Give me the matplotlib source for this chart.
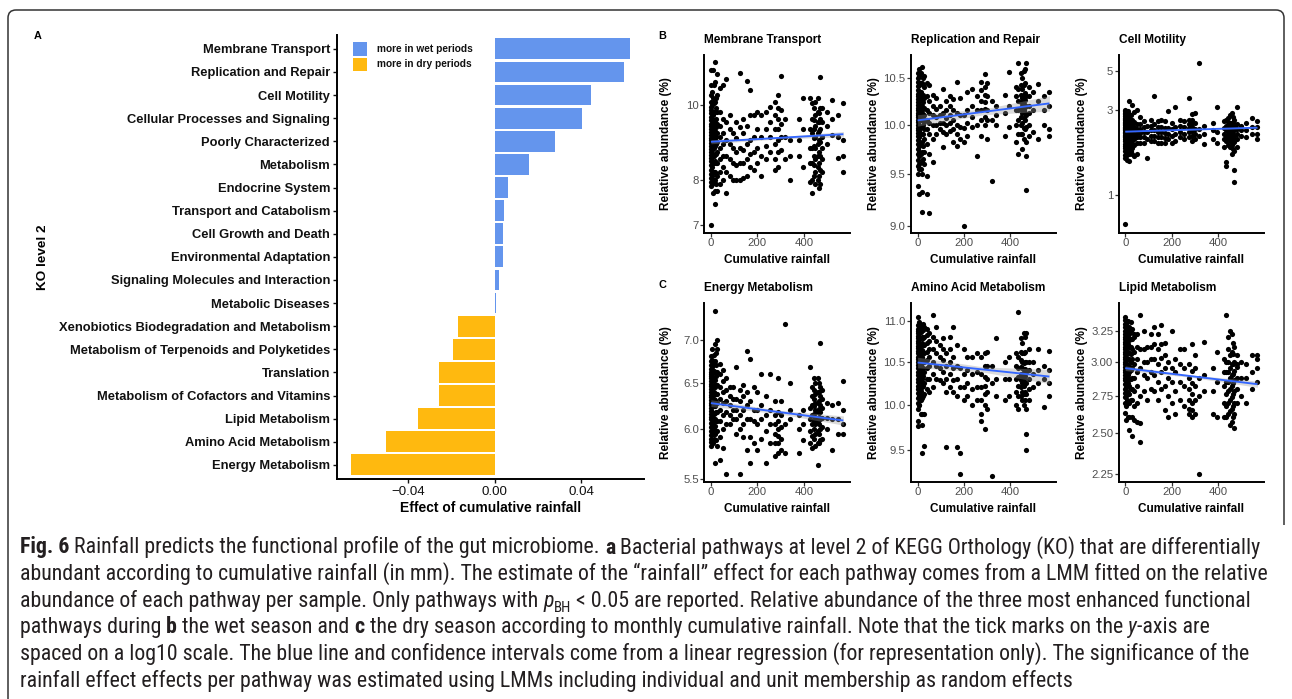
import numpy as np
import matplotlib
matplotlib.use("Agg")
import matplotlib.pyplot as plt
from matplotlib import font_manager
from matplotlib.patches import Rectangle, PathPatch
from matplotlib.path import Path
from matplotlib.transforms import IdentityTransform
from matplotlib.ticker import NullLocator, FixedLocator, FixedFormatter

# ---------------- data ----------------
# Panel A (top to bottom)
pathways = ["Membrane Transport", "Replication and Repair", "Cell Motility",
            "Cellular Processes and Signaling", "Poorly Characterized", "Metabolism",
            "Endocrine System", "Transport and Catabolism", "Cell Growth and Death",
            "Environmental Adaptation", "Signaling Molecules and Interaction",
            "Metabolic Diseases", "Xenobiotics Biodegradation and Metabolism",
            "Metabolism of Terpenoids and Polyketides", "Translation",
            "Metabolism of Cofactors and Vitamins", "Lipid Metabolism",
            "Amino Acid Metabolism", "Energy Metabolism"]
rain_effect = [0.0625, 0.0598, 0.0445, 0.0404, 0.0279, 0.0158, 0.0062, 0.0043, 0.0038,
               0.0038, 0.0019, 0.0005, -0.0170, -0.0194, -0.0257, -0.0257, -0.0358,
               -0.0502, -0.0664]
effect_ticks = [-0.04, 0.0, 0.04]
effect_ticklabels = ["\u22120.04", "0.00", "0.04"]
legend_labels = ["more in wet periods", "more in dry periods"]

# Panels B/C: monthly cumulative rainfall (mm) per sample, grouped in columns
rain_cols = [0, 8, 18, 28, 40, 50, 65, 80, 95, 110, 125, 140, 155, 170, 185, 200, 215, 235,
             255, 275, 290, 300, 320, 340, 380, 395, 425, 435, 450, 460, 470, 480, 500, 520,
             545, 570, 4, 13, 23, 445, 465]
rain_counts = [30, 12, 14, 10, 8, 7, 6, 5, 4, 5, 5, 5, 5, 5, 4, 4, 4, 4, 4, 6, 7, 5, 3, 3, 3,
               3, 5, 7, 8, 8, 8, 6, 3, 3, 3, 4, 14, 12, 10, 8, 8]

membrane_transport = [
    7.0, 7.85, 7.95, 8.05, 8.15, 8.25, 8.35, 8.45, 8.55, 8.62, 8.7, 8.78, 8.85, 8.92, 9.0,
    9.07, 9.15, 9.22, 9.3, 9.38, 9.46, 9.55, 9.65, 9.75, 9.85, 9.95, 10.1, 10.3, 10.6, 11.1,
    7.7, 7.95, 8.2, 8.4, 8.6, 8.8, 9.0, 9.2, 9.45, 9.7, 10.2, 11.1,
    7.45, 7.75, 8.0, 8.2, 8.45, 8.65, 8.85, 9.05, 9.25, 9.5, 9.8, 10.1, 10.7, 11.35,
    7.75, 8.1, 8.4, 8.7, 8.95, 9.2, 9.45, 9.8, 10.3, 10.95,
    7.9, 8.2, 8.5, 8.8, 9.1, 9.4, 9.8, 10.5,
    8.0, 8.3, 8.6, 8.9, 9.2, 9.6, 10.6,
    7.7, 8.2, 8.6, 9.0, 9.5, 10.8,
    8.1, 8.5, 8.9, 9.3, 9.7,
    8.0, 8.4, 8.8, 9.2,
    8.0, 8.35, 8.7, 9.05, 9.5,
    8.0, 8.4, 8.8, 9.35, 11.0,
    8.05, 8.4, 8.75, 9.2, 9.6,
    8.1, 8.5, 8.9, 9.4, 10.75,
    8.3, 8.65, 9.0, 9.7, 10.45,
    8.25, 8.7, 9.1, 9.7,
    8.4, 8.8, 9.3, 9.8,
    8.1, 8.6, 9.1, 9.7,
    8.5, 8.85, 9.3, 9.8,
    8.7, 9.1, 9.5, 9.95,
    8.25, 8.5, 8.9, 9.3, 9.7, 10.1,
    8.3, 8.7, 9.0, 9.3, 9.6, 9.9, 10.3,
    8.75, 9.1, 9.45, 9.85, 10.9,
    8.5, 9.1, 9.6,
    8.0, 8.6, 9.0,
    8.6, 9.0, 9.6,
    8.3, 9.3, 10.2,
    7.95, 8.4, 8.8, 9.3, 10.2,
    7.7, 8.0, 8.4, 8.8, 9.2, 9.6, 10.05,
    7.9, 8.2, 8.5, 8.8, 9.1, 9.4, 9.7, 10.1,
    8.0, 8.3, 8.6, 8.9, 9.2, 9.5, 9.8, 10.2,
    7.9, 8.25, 8.6, 8.95, 9.3, 9.6, 9.9, 10.86,
    8.2, 8.5, 8.8, 9.1, 9.5, 9.9,
    8.9, 9.4, 9.8,
    9.15, 9.6, 10.15,
    8.55, 9.1, 9.7,
    8.2, 8.6, 9.0, 10.05,
    7.9, 8.1, 8.3, 8.45, 8.6, 8.75, 8.9, 9.05, 9.2, 9.35, 9.55, 9.75, 10.0, 10.4,
    8.0, 8.2, 8.4, 8.6, 8.8, 9.0, 9.15, 9.35, 9.55, 9.8, 10.05, 10.6,
    7.9, 8.15, 8.4, 8.65, 8.9, 9.1, 9.35, 9.6, 9.9, 10.2,
    8.1, 8.35, 8.6, 8.85, 9.05, 9.3, 9.55, 9.9,
    7.8, 8.1, 8.4, 8.7, 9.0, 9.25, 9.5, 9.75]

replication_repair = [
    9.38, 9.5, 9.58, 9.64, 9.7, 9.75, 9.8, 9.84, 9.88, 9.91, 9.94, 9.97, 10.0, 10.03, 10.05,
    10.08, 10.1, 10.12, 10.15, 10.18, 10.21, 10.24, 10.27, 10.3, 10.33, 10.37, 10.41, 10.46,
    10.5, 10.55,
    9.3, 9.55, 9.68, 9.78, 9.88, 9.96, 10.04, 10.12, 10.2, 10.3, 10.45, 10.6,
    9.13, 9.32, 9.5, 9.62, 9.72, 9.82, 9.9, 9.98, 10.05, 10.12, 10.2, 10.3, 10.45, 10.62,
    9.6, 9.72, 9.85, 9.95, 10.03, 10.1, 10.18, 10.28, 10.4, 10.52,
    9.3, 9.48, 9.8, 9.95, 10.05, 10.15, 10.3, 10.45,
    9.12, 9.7, 9.9, 10.02, 10.12, 10.25, 10.42,
    9.62, 9.85, 10.0, 10.1, 10.2, 10.32,
    9.9, 10.0, 10.08, 10.17, 10.28,
    9.95, 10.02, 10.1, 10.2,
    9.77, 9.92, 10.02, 10.12, 10.38,
    9.9, 10.0, 10.07, 10.15, 10.25,
    9.93, 10.02, 10.1, 10.2, 10.3,
    9.82, 9.95, 10.05, 10.15, 10.27,
    9.78, 9.9, 10.0, 10.12, 10.46,
    9.85, 9.98, 10.1, 10.28,
    9.0, 9.82, 9.97, 10.1,
    9.88, 10.02, 10.15, 10.35,
    9.98, 10.08, 10.2, 10.38,
    9.68, 10.0, 10.15, 10.3,
    9.88, 10.05, 10.15, 10.25, 10.37, 10.46,
    10.0, 10.08, 10.16, 10.24, 10.32, 10.4, 10.54,
    9.85, 10.05, 10.15, 10.3, 10.45,
    9.43, 10.05, 10.25,
    10.0, 10.1, 10.2,
    9.88, 10.12, 10.32,
    9.98, 10.2, 10.57,
    9.82, 10.0, 10.15, 10.3, 10.4,
    9.7, 9.9, 10.05, 10.15, 10.25, 10.38, 10.66,
    9.75, 9.9, 10.02, 10.12, 10.2, 10.28, 10.38, 10.5,
    9.85, 9.97, 10.07, 10.15, 10.22, 10.3, 10.42, 10.58,
    9.34, 9.68, 9.82, 9.98, 10.1, 10.2, 10.3, 10.66,
    9.88, 10.0, 10.12, 10.2, 10.3, 10.4,
    9.92, 10.15, 10.35,
    9.85, 10.25, 10.43,
    10.0, 10.15, 10.3,
    9.88, 9.95, 10.2, 10.35,
    9.6, 9.72, 9.8, 9.87, 9.93, 9.99, 10.05, 10.1, 10.16, 10.22, 10.28, 10.35, 10.42, 10.52,
    9.55, 9.7, 9.8, 9.9, 9.98, 10.06, 10.13, 10.2, 10.27, 10.35, 10.44, 10.55,
    9.65, 9.78, 9.9, 10.0, 10.08, 10.16, 10.24, 10.32, 10.42, 10.5,
    9.9, 10.0, 10.08, 10.16, 10.24, 10.32, 10.42, 10.55,
    9.95, 10.05, 10.12, 10.19, 10.26, 10.34, 10.45, 10.6]

cell_motility = [
    0.68, 1.6, 1.68, 1.75, 1.82, 1.88, 1.94, 2.0, 2.05, 2.1, 2.14, 2.18, 2.22, 2.26, 2.3,
    2.34, 2.38, 2.42, 2.46, 2.5, 2.54, 2.58, 2.62, 2.67, 2.72, 2.78, 2.84, 2.9, 2.96, 3.0,
    1.56, 1.72, 1.85, 1.96, 2.06, 2.16, 2.26, 2.36, 2.46, 2.58, 2.72, 2.88,
    1.55, 1.7, 1.82, 1.93, 2.03, 2.12, 2.2, 2.28, 2.36, 2.45, 2.55, 2.68, 2.85, 3.37,
    1.7, 1.84, 1.96, 2.06, 2.16, 2.26, 2.37, 2.5, 2.65, 3.2,
    1.66, 1.9, 2.05, 2.18, 2.3, 2.42, 2.58, 2.92,
    1.7, 1.95, 2.1, 2.22, 2.35, 2.5, 3.0,
    1.95, 2.1, 2.22, 2.35, 2.5, 2.75,
    1.95, 2.1, 2.25, 2.4, 2.6,
    1.6, 2.05, 2.25, 2.45,
    2.0, 2.15, 2.3, 2.45, 2.65,
    2.0, 2.15, 2.3, 2.5, 3.6,
    1.95, 2.1, 2.25, 2.4, 2.6,
    1.95, 2.1, 2.25, 2.42, 2.65,
    1.95, 2.08, 2.22, 2.38, 2.6,
    2.05, 2.2, 2.38, 2.95,
    1.95, 2.15, 2.35, 2.55,
    2.0, 2.2, 2.4, 3.1,
    2.1, 2.25, 2.45, 2.65,
    2.05, 2.2, 2.4, 2.6,
    2.1, 2.25, 2.38, 2.5, 2.65, 3.5,
    2.0, 2.15, 2.28, 2.4, 2.52, 2.65, 2.85,
    2.05, 2.2, 2.35, 2.55, 2.9,
    2.15, 2.35, 5.5,
    1.92, 2.2, 2.45,
    2.05, 2.3, 2.55,
    1.95, 2.25, 3.1,
    1.85, 2.05, 2.2, 2.38, 2.6,
    1.45, 1.52, 2.0, 2.15, 2.3, 2.45, 2.65,
    1.85, 2.0, 2.12, 2.22, 2.32, 2.42, 2.55, 2.8,
    1.7, 1.9, 2.05, 2.17, 2.28, 2.4, 2.55, 2.9,
    1.18, 1.38, 1.75, 1.98, 2.15, 2.3, 2.45, 2.65,
    1.85, 2.05, 2.2, 2.35, 2.5, 3.1,
    2.15, 2.3, 2.45,
    2.1, 2.3, 2.55,
    2.2, 2.4, 2.7,
    2.05, 2.2, 2.4, 2.6,
    1.65, 1.78, 1.9, 2.0, 2.08, 2.16, 2.24, 2.32, 2.4, 2.48, 2.56, 2.65, 2.76, 2.9,
    1.7, 1.85, 1.98, 2.08, 2.17, 2.26, 2.35, 2.44, 2.53, 2.63, 2.75, 2.95,
    1.75, 1.9, 2.02, 2.12, 2.22, 2.32, 2.42, 2.52, 2.64, 2.8,
    1.9, 2.05, 2.15, 2.25, 2.35, 2.45, 2.58, 2.72,
    1.8, 1.98, 2.1, 2.2, 2.3, 2.42, 2.55, 2.75]

energy_metabolism = [
    5.82, 5.86, 5.9, 5.94, 5.98, 6.02, 6.06, 6.1, 6.13, 6.16, 6.19, 6.22, 6.25, 6.28, 6.31,
    6.34, 6.37, 6.4, 6.43, 6.46, 6.49, 6.52, 6.55, 6.58, 6.62, 6.66, 6.7, 6.75, 6.81, 6.6,
    5.85, 5.95, 6.03, 6.1, 6.17, 6.24, 6.31, 6.38, 6.45, 6.53, 6.62, 6.72,
    5.65, 5.95, 6.03, 6.1, 6.17, 6.24, 6.31, 6.38, 6.45, 6.53, 6.62, 6.75, 6.95, 7.37,
    5.82, 5.98, 6.08, 6.18, 6.28, 6.38, 6.48, 6.62, 6.9, 7.0,
    5.68, 5.92, 6.08, 6.2, 6.32, 6.45, 6.6, 6.72,
    5.8, 6.0, 6.15, 6.28, 6.4, 6.52, 6.65,
    5.55, 6.05, 6.18, 6.3, 6.42, 6.55,
    6.05, 6.15, 6.25, 6.35, 6.45,
    6.1, 6.2, 6.32, 6.45,
    5.95, 6.1, 6.2, 6.32, 6.68,
    5.55, 6.0, 6.15, 6.3, 6.42,
    5.92, 6.05, 6.2, 6.35, 6.48,
    5.78, 6.1, 6.25, 6.4, 6.87,
    5.65, 5.92, 6.1, 6.3, 6.78,
    5.85, 6.08, 6.2, 6.45,
    5.78, 6.05, 6.2, 6.4,
    5.9, 6.1, 6.25, 6.6,
    5.65, 5.98, 6.15, 6.35,
    5.85, 6.05, 6.2, 6.6,
    5.72, 5.85, 5.95, 6.05, 6.15, 6.3,
    5.75, 5.85, 5.93, 6.0, 6.08, 6.18, 6.56,
    5.78, 5.9, 6.02, 6.15, 6.3,
    5.75, 6.05, 7.2,
    6.1, 6.2, 6.5,
    5.75, 6.0, 6.15,
    5.88, 6.05, 6.2,
    5.85, 5.98, 6.1, 6.22, 6.68,
    5.8, 5.93, 6.05, 6.15, 6.25, 6.35, 6.45,
    5.82, 5.95, 6.05, 6.12, 6.2, 6.28, 6.38, 6.5,
    5.63, 5.85, 5.98, 6.08, 6.18, 6.28, 6.4, 6.55,
    5.88, 6.0, 6.1, 6.18, 6.26, 6.35, 6.45, 6.97,
    5.9, 6.02, 6.12, 6.22, 6.32, 6.42,
    6.0, 6.12, 6.28,
    5.78, 6.1, 6.25,
    5.95, 6.1, 6.28,
    5.95, 6.05, 6.2, 6.52,
    5.88, 5.96, 6.04, 6.11, 6.18, 6.25, 6.32, 6.39, 6.46, 6.53, 6.6, 6.68, 6.77, 6.9,
    5.9, 6.0, 6.08, 6.16, 6.24, 6.32, 6.4, 6.48, 6.56, 6.64, 6.72, 6.82,
    5.88, 5.98, 6.08, 6.18, 6.28, 6.38, 6.48, 6.58, 6.7, 6.85,
    5.9, 6.0, 6.08, 6.16, 6.24, 6.32, 6.42, 6.55,
    5.85, 5.95, 6.05, 6.13, 6.21, 6.3, 6.4, 6.5]

amino_acid_metabolism = [
    9.76, 9.82, 9.95, 10.02, 10.08, 10.13, 10.18, 10.22, 10.26, 10.3, 10.34, 10.38, 10.42,
    10.46, 10.5, 10.53, 10.56, 10.6, 10.63, 10.66, 10.69, 10.72, 10.75, 10.78, 10.81, 10.84,
    10.87, 10.9, 10.94, 11.05,
    10.0, 10.12, 10.22, 10.32, 10.42, 10.5, 10.58, 10.65, 10.72, 10.8, 10.88, 10.95,
    9.47, 9.78, 9.9, 10.08, 10.2, 10.3, 10.4, 10.48, 10.56, 10.64, 10.72, 10.8, 10.88, 10.95,
    9.55, 9.9, 10.12, 10.25, 10.38, 10.5, 10.6, 10.7, 10.8, 10.92,
    10.18, 10.3, 10.42, 10.52, 10.62, 10.72, 10.82, 10.9,
    10.15, 10.3, 10.45, 10.55, 10.65, 10.75, 10.85,
    10.2, 10.35, 10.5, 10.65, 10.8, 11.07,
    10.3, 10.45, 10.6, 10.75, 10.92,
    10.28, 10.42, 10.55, 10.7,
    10.25, 10.38, 10.52, 10.65, 10.78,
    9.53, 10.15, 10.3, 10.45, 10.6,
    10.2, 10.35, 10.5, 10.65, 10.8,
    10.15, 10.28, 10.42, 10.55, 10.92,
    9.53, 10.1, 10.3, 10.45, 10.7,
    9.47, 9.25, 10.2, 10.42,
    10.05, 10.2, 10.35, 10.65,
    10.1, 10.25, 10.4, 10.55,
    10.0, 10.18, 10.35, 10.55,
    10.05, 10.2, 10.38, 10.6,
    9.9, 9.82, 10.05, 10.2, 10.35, 10.55,
    9.73, 10.0, 10.12, 10.22, 10.32, 10.45, 10.6,
    9.95, 10.15, 10.3, 10.45, 10.62,
    9.23, 10.25, 10.45,
    10.1, 10.3, 10.78,
    10.05, 10.3, 10.5,
    10.1, 10.3, 10.55,
    10.0, 10.15, 10.3, 10.45, 10.6,
    9.95, 10.1, 10.22, 10.32, 10.42, 10.55, 11.11,
    10.05, 10.15, 10.25, 10.33, 10.42, 10.5, 10.6, 10.72,
    10.0, 10.12, 10.22, 10.3, 10.38, 10.48, 10.6, 10.85,
    9.5, 9.68, 9.95, 10.12, 10.25, 10.38, 10.5, 10.85,
    10.05, 10.18, 10.3, 10.4, 10.5, 10.65,
    10.2, 10.35, 10.5,
    10.25, 10.4, 10.65,
    9.98, 10.3, 10.45,
    10.1, 10.25, 10.4, 10.63,
    10.1, 10.2, 10.28, 10.36, 10.44, 10.51, 10.58, 10.65, 10.72, 10.79, 10.86, 10.93, 10.98, 10.0,
    10.05, 10.16, 10.26, 10.36, 10.45, 10.54, 10.62, 10.7, 10.78, 10.86, 10.93, 9.9,
    10.1, 10.22, 10.33, 10.43, 10.52, 10.61, 10.7, 10.79, 10.88, 10.96,
    10.1, 10.2, 10.28, 10.36, 10.44, 10.52, 10.62, 10.78,
    10.05, 10.15, 10.25, 10.33, 10.41, 10.5, 10.62, 10.8]

lipid_metabolism = [
    2.63, 2.7, 2.74, 2.77, 2.8, 2.83, 2.86, 2.88, 2.9, 2.92, 2.94, 2.96, 2.98, 3.0, 3.02,
    3.04, 3.06, 3.08, 3.1, 3.12, 3.14, 3.16, 3.18, 3.2, 3.22, 3.25, 3.28, 3.31, 3.34, 3.37,
    2.72, 2.78, 2.83, 2.88, 2.93, 2.98, 3.03, 3.08, 3.13, 3.18, 3.24, 3.32,
    2.52, 2.6, 2.7, 2.76, 2.82, 2.87, 2.92, 2.97, 3.02, 3.07, 3.12, 3.17, 3.22, 3.28,
    2.48, 2.6, 2.72, 2.8, 2.88, 2.95, 3.02, 3.1, 3.18, 3.26,
    2.58, 2.68, 2.78, 2.88, 2.98, 3.08, 3.2, 3.22,
    2.57, 2.7, 2.82, 2.92, 3.02, 3.12, 3.22,
    2.44, 2.56, 2.75, 2.95, 3.1, 3.38,
    2.78, 2.9, 3.0, 3.1, 3.25,
    2.72, 2.88, 3.0, 3.12,
    2.8, 2.92, 3.02, 3.12, 3.22,
    2.78, 2.9, 3.02, 3.14, 3.28,
    2.72, 2.85, 2.98, 3.1, 3.22,
    2.8, 2.92, 3.03, 3.14, 3.3,
    2.65, 2.82, 2.95, 3.05, 3.15,
    2.6, 2.75, 2.88, 3.0,
    2.7, 2.85, 2.95, 3.25,
    2.62, 2.78, 2.92, 3.02,
    2.72, 2.85, 2.98, 3.1,
    2.68, 2.82, 2.95, 3.1,
    2.62, 2.66, 2.72, 2.8, 2.88, 2.98,
    2.6, 2.65, 2.7, 2.76, 2.84, 2.93, 3.14,
    2.62, 2.72, 2.82, 2.95, 3.05,
    2.25, 2.75, 2.88,
    2.78, 2.9, 3.16,
    2.62, 2.78, 2.95,
    2.6, 2.85, 3.08,
    2.6, 2.7, 2.82, 2.92, 3.02,
    2.6, 2.68, 2.76, 2.85, 2.92, 3.0, 3.38,
    2.55, 2.64, 2.72, 2.8, 2.88, 2.95, 3.05, 3.25,
    2.57, 2.66, 2.74, 2.82, 2.9, 2.98, 3.08, 3.22,
    2.53, 2.62, 2.7, 2.78, 2.86, 2.93, 3.0, 3.12,
    2.7, 2.8, 2.88, 2.96, 3.05, 2.98,
    2.75, 2.88, 3.0,
    2.7, 2.88, 2.98,
    2.8, 2.92, 3.05,
    2.85, 2.95, 3.02, 3.05,
    2.68, 2.75, 2.81, 2.86, 2.91, 2.96, 3.01, 3.06, 3.11, 3.16, 3.21, 3.26, 3.31, 2.58,
    2.7, 2.77, 2.84, 2.9, 2.96, 3.02, 3.08, 3.14, 3.2, 3.26, 3.33, 2.6,
    2.72, 2.8, 2.87, 2.94, 3.0, 3.06, 3.12, 3.18, 3.25, 3.32,
    2.62, 2.7, 2.78, 2.85, 2.92, 3.0, 3.1, 3.2,
    2.6, 2.68, 2.76, 2.84, 2.91, 2.98, 3.06, 3.15]

# linear-regression line (log10 scale) read at rainfall 0 and 570 mm
fit_rain = [0, 570]
fit_mt = [8.96, 9.165]
fit_rr = [10.045, 10.225]
fit_cm = [2.265, 2.385]
fit_em = [6.275, 6.088]
fit_aa = [10.49, 10.325]
fit_lm = [2.951, 2.832]

caption_lines = [
    [("Fig. 6", "b"), (" Rainfall predicts the functional profile of the gut microbiome. ", "n"),
     ("a", "b"), (" Bacterial pathways at level 2 of KEGG Orthology (KO) that are differentially", "n")],
    [("abundant according to cumulative rainfall (in mm). The estimate of the \u201crainfall\u201d effect for each pathway comes from a LMM fitted on the relative", "n")],
    [("abundance of each pathway per sample. Only pathways with ", "n"), ("p", "i"), ("BH", "s"),
     (" < 0.05 are reported. Relative abundance of the three most enhanced functional", "n")],
    [("pathways during ", "n"), ("b", "b"), (" the wet season and ", "n"), ("c", "b"),
     (" the dry season according to monthly cumulative rainfall. Note that the tick marks on the ", "n"),
     ("y", "i"), ("-axis are", "n")],
    [("spaced on a log10 scale. The blue line and confidence intervals come from a linear regression (for representation only). The significance of the", "n")],
    [("rainfall effect effects per pathway was estimated using LMMs including individual and unit membership as random effects", "n")],
]

# ---------------- figure ----------------
W, H = 1292, 699
plt.rcParams['font.family'] = ['Liberation Sans', 'DejaVu Sans']
fig = plt.figure(figsize=(W / 100, H / 100), dpi=100)
fig.patch.set_facecolor("white")

def add_axes_px(l, t, r, b):
    return fig.add_axes([l / W, 1 - b / H, (r - l) / W, (b - t) / H])

def ax_x(box, px):
    return (px - box[0]) / (box[2] - box[0])

def ax_y(box, py):
    return (box[3] - py) / (box[3] - box[1])

BLUE = "#6495ED"
GOLD = "#FFB90F"

# ---------- Panel A ----------
boxA = (337, 35, 643.7, 478.7)
axA = add_axes_px(*boxA)
n = len(pathways)
ypos = np.arange(n)[::-1]
bar_colors = [BLUE if v > 0 else GOLD for v in rain_effect]
axA.barh(ypos, rain_effect, height=0.9, color=bar_colors, linewidth=0)
axA.set_ylim(-0.6, n - 0.4)
axA.set_xlim(-0.0731, 0.069)
axA.set_yticks(ypos)
axA.set_yticklabels(pathways, fontsize=9.3, fontweight="bold", color="#111111")
axA.xaxis.set_major_locator(FixedLocator(effect_ticks))
axA.xaxis.set_major_formatter(FixedFormatter(effect_ticklabels))
axA.tick_params(axis="x", labelsize=9.6, length=3, width=1, pad=2.3, colors="#111111")
axA.tick_params(axis="y", length=3, width=1, pad=2.0, color="#111111")
for s in ["top", "right"]:
    axA.spines[s].set_visible(False)
for s in ["left", "bottom"]:
    axA.spines[s].set_linewidth(1.4)
    axA.spines[s].set_color("black")
axA.set_xlabel("Effect of cumulative rainfall", fontsize=10, fontweight="bold")
axA.xaxis.set_label_coords(0.5, ax_y(boxA, 508))
axA.xaxis.label.set_va("center")
axA.set_ylabel("KO level 2", fontsize=9.7, fontweight="bold")
axA.yaxis.set_label_coords(ax_x(boxA, 43.5), 0.5)
axA.yaxis.label.set_va("center")

# legend (panel A)
for i, (lab, col) in enumerate(zip(legend_labels, [BLUE, GOLD])):
    top = 42 + i * 15.5
    fig.patches.append(Rectangle((353 / W, 1 - (top + 13.6) / H), 14 / W, 13.6 / H,
                                 transform=fig.transFigure, facecolor=col, edgecolor="none"))
    fig.text(377 / W, 1 - (top + 6.8) / H, lab, fontsize=7.3, fontweight="bold",
             va="center", ha="left", color="#111111")

fig.text(37.5 / W, 1 - 35.7 / H, "A", fontsize=7.8, fontweight="bold", ha="center", va="center")
fig.text(662 / W, 1 - 35.7 / H, "B", fontsize=7.8, fontweight="bold", ha="center", va="center")
fig.text(662 / W, 1 - 285 / H, "C", fontsize=7.8, fontweight="bold", ha="center", va="center")

# ---------- Panels B and C ----------
rain = np.repeat(rain_cols, rain_counts)
lefts = [704.3, 911, 1118.6]
rights = [850, 1056, 1264]
ylab_x = [665.5, 873.7, 1081.8]
rows = [(55, 233, 40, 242, 260), (303, 482, 288.3, 492, 509)]
panels = [
    (0, 0, "Membrane Transport", membrane_transport, fit_mt, (6.83, 11.6), [7, 8, 10], ["7", "8", "10"]),
    (0, 1, "Replication and Repair", replication_repair, fit_rr, (8.93, 10.755),
     [9.0, 9.5, 10.0, 10.5], ["9.0", "9.5", "10.0", "10.5"]),
    (0, 2, "Cell Motility", cell_motility, fit_cm, (0.607, 6.13), [1, 3, 5], ["1", "3", "5"]),
    (1, 0, "Energy Metabolism", energy_metabolism, fit_em, (5.47, 7.47),
     [5.5, 6.0, 6.5, 7.0], ["5.5", "6.0", "6.5", "7.0"]),
    (1, 1, "Amino Acid Metabolism", amino_acid_metabolism, fit_aa, (9.165, 11.22),
     [9.5, 10.0, 10.5, 11.0], ["9.5", "10.0", "10.5", "11.0"]),
    (1, 2, "Lipid Metabolism", lipid_metabolism, fit_lm, (2.2017, 3.49),
     [2.25, 2.5, 2.75, 3.0, 3.25], ["2.25", "2.50", "2.75", "3.00", "3.25"]),
]
for r, c, title, yvals, fit, ylim, yt, ytl in panels:
    top, bot, ty, _, xly = rows[r]
    box = (lefts[c], top, rights[c], bot)
    ax = add_axes_px(*box)
    assert len(yvals) == len(rain)
    ax.scatter(rain, yvals, s=14, color="black", linewidths=0, zorder=2)
    # narrow confidence ribbon + fitted line
    mid = np.sqrt(fit[0] * fit[1])
    lo = [fit[0] * 0.994, mid * 0.997, fit[1] * 0.992]
    hi = [fit[0] * 1.006, mid * 1.003, fit[1] * 1.008]
    ax.fill_between([fit_rain[0], np.mean(fit_rain), fit_rain[1]], lo, hi,
                    color="#999999", alpha=0.35, linewidth=0, zorder=3)
    ax.plot(fit_rain, fit, color="#3366FF", lw=1.35, zorder=4, solid_capstyle="butt")
    ax.set_yscale("log")
    ax.set_xlim(-28.5, 598.5)
    ax.set_ylim(*ylim)
    ax.yaxis.set_major_locator(FixedLocator(yt))
    ax.yaxis.set_major_formatter(FixedFormatter(ytl))
    ax.yaxis.set_minor_locator(NullLocator())
    ax.set_xticks([0, 200, 400])
    ax.set_xticklabels(["0", "200", "400"])
    ax.tick_params(axis="both", labelsize=8.2, length=2.6, width=0.9, color="#333333",
                   labelcolor="#4D4D4D")
    ax.tick_params(axis="x", pad=1.0)
    ax.tick_params(axis="y", pad=1.3)
    for s in ["top", "right"]:
        ax.spines[s].set_visible(False)
    for s in ["left", "bottom"]:
        ax.spines[s].set_linewidth(1.4)
        ax.spines[s].set_color("black")
    ax.set_xlabel("Cumulative rainfall", fontsize=8.5, fontweight="bold")
    ax.xaxis.set_label_coords(0.5, ax_y(box, xly))
    ax.xaxis.label.set_va("center")
    ax.set_ylabel("Relative abundance (%)", fontsize=8.5, fontweight="bold")
    ax.yaxis.set_label_coords(ax_x(box, ylab_x[c]), 0.5)
    ax.yaxis.label.set_va("center")
    ax.set_title(title, fontsize=8.6, fontweight="bold", loc="left", pad=0,
                 y=ax_y(box, ty), va="center")

# ---------- frame ----------
rad = 8
right_end = 525
verts = [(8, H - 699), (8, H - 10 - rad), (8, H - 10), (8 + rad, H - 10),
         (1284 - rad, H - 10), (1284, H - 10), (1284, H - 10 - rad), (1284, H - right_end)]
codes = [Path.MOVETO, Path.LINETO, Path.CURVE3, Path.CURVE3, Path.LINETO,
         Path.CURVE3, Path.CURVE3, Path.LINETO]
fig.patches.append(PathPatch(Path(verts, codes), transform=IdentityTransform(),
                             facecolor="none", edgecolor="#333333", lw=1.1))

# ---------- caption ----------
def pick_caption_font():
    for fam, stretch in [("Liberation Sans Narrow", "normal"), ("Roboto Condensed", "normal"),
                         ("Open Sans Condensed", "normal"), ("DejaVu Sans Condensed", "normal"),
                         ("DejaVu Sans", "condensed"), ("Open Sans", "condensed"),
                         ("Roboto", "condensed")]:
        try:
            path = font_manager.findfont(font_manager.FontProperties(family=fam, stretch=stretch),
                                         fallback_to_default=False)
        except Exception:
            continue
        if fam.endswith(("Narrow", "Condensed")) or "ondensed" in path or "arrow" in path:
            return fam, stretch
    return "Liberation Sans", "normal"

cap_family, cap_stretch = pick_caption_font()
cap_color = "#231F20"
renderer = fig.canvas.get_renderer()

def text_w(t):
    return t.get_window_extent(renderer).width

def draw_line(segs, x0, base, size):
    arts = []
    probe = fig.text(0, 0, "a a", fontsize=size, family=cap_family, fontstretch=cap_stretch)
    probe2 = fig.text(0, 0, "aa", fontsize=size, family=cap_family, fontstretch=cap_stretch)
    sp = text_w(probe) - text_w(probe2)
    probe.remove(); probe2.remove()
    x = x0
    for txt, st in segs:
        core = txt.strip(" ")
        lead = len(txt) - len(txt.lstrip(" "))
        trail = len(txt) - len(txt.rstrip(" "))
        x += lead * sp
        kw = dict(fontsize=size, family=cap_family, fontstretch=cap_stretch, color=cap_color,
                  ha="left", va="baseline")
        yy = base
        if st == "b":
            kw["fontweight"] = "bold"
        elif st == "i":
            kw["fontstyle"] = "italic"
        elif st == "s":
            kw["fontsize"] = size * 0.68
            yy = base + size * 0.35
        t = fig.text(x / W, 1 - yy / H, core, **kw)
        arts.append(t)
        x += text_w(t) + trail * sp
    return x, arts

size0 = 12.0
end, arts = draw_line(caption_lines[0], 20, 553, size0)
for a in arts:
    a.remove()
cap_size = size0 * (1264 - 20) / (end - 20)
for i, segs in enumerate(caption_lines):
    draw_line(segs, 20, 553.5 + i * 26.6, cap_size)

fig.savefig("out.png", dpi=100, facecolor="white")
